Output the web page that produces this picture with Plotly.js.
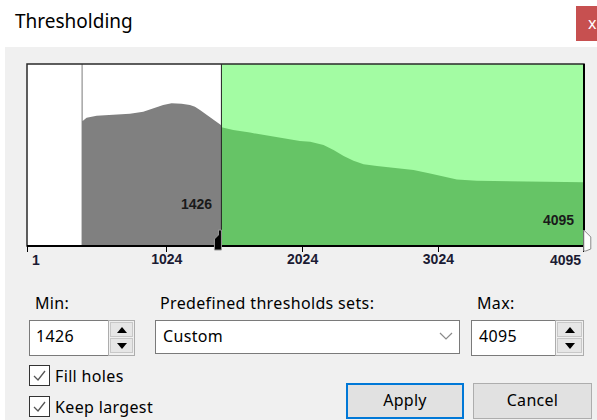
<!DOCTYPE html>
<html><head><meta charset="utf-8">
<script src="https://cdn.plot.ly/plotly-3.0.1.min.js"></script>
<style>
html,body{margin:0;padding:0;width:597px;height:420px;overflow:hidden;background:#fff;font-family:"Noto Sans",sans-serif;}
#wrap{position:relative;width:597px;height:420px;overflow:hidden;}
.abs{position:absolute;}
#dlg{left:5px;top:47px;width:592px;height:373px;background:#f0f0f0;}
#chart{left:0;top:0;width:597px;height:420px;}
.lbl{font-size:16px;line-height:16px;color:#000;white-space:nowrap;letter-spacing:0.35px;}
.box{background:#fff;border:1px solid #7a7a7a;box-sizing:border-box;}
.spin{background:#f0f0f0;border:1px solid #adadad;box-sizing:border-box;}
.spin .half{position:absolute;left:1px;right:1px;height:15px;background:#e6e6e6;border:1px solid #c8c8c8;box-sizing:border-box;}
.up{position:absolute;left:50%;top:50%;margin-left:-5px;margin-top:-3px;width:0;height:0;border-left:5px solid transparent;border-right:5px solid transparent;border-bottom:6px solid #000;}
.dn{position:absolute;left:50%;top:50%;margin-left:-5px;margin-top:-3px;width:0;height:0;border-left:5px solid transparent;border-right:5px solid transparent;border-top:6px solid #000;}
.chk{background:#fff;border:1px solid #333;box-sizing:border-box;width:21px;height:21px;}
.btn{background:#e1e1e1;box-sizing:border-box;text-align:center;font-size:16px;color:#000;letter-spacing:0.3px;}
</style>
</head><body>
<div id="wrap">
  <div class="abs lbl" style="left:15px;top:12px;font-size:19px;line-height:19px;letter-spacing:0;">Thresholding</div>
  <div class="abs" style="left:576px;top:6px;width:21px;height:35px;background:#c75050;"></div>
  <div class="abs lbl" style="left:588px;top:15px;color:#fff;font-size:16px;">x</div>
  <div class="abs" id="dlg"></div>
  <div class="abs" id="chart"></div>

  <div class="abs lbl" style="left:35px;top:295px;">Min:</div>
  <div class="abs lbl" style="left:160px;top:295px;">Predefined thresholds sets:</div>
  <div class="abs lbl" style="left:477px;top:295px;">Max:</div>

  <div class="abs box" style="left:29px;top:320px;width:80px;height:36px;"></div>
  <div class="abs lbl" style="left:36px;top:328px;">1426</div>
  <div class="abs spin" style="left:108px;top:320px;width:27px;height:36px;">
    <div class="half" style="top:1px;"><div class="up"></div></div>
    <div class="half" style="top:17px;"><div class="dn"></div></div>
  </div>

  <div class="abs box" style="left:155px;top:320px;width:305px;height:34px;"></div>
  <div class="abs lbl" style="left:163px;top:328px;">Custom</div>
  <svg class="abs" style="left:438px;top:330px;" width="16" height="12"><polyline points="2,3 8,9 14,3" fill="none" stroke="#8a8a8a" stroke-width="1.2"/></svg>

  <div class="abs box" style="left:471px;top:320px;width:85px;height:36px;"></div>
  <div class="abs lbl" style="left:479px;top:328px;">4095</div>
  <div class="abs spin" style="left:555px;top:320px;width:29px;height:36px;">
    <div class="half" style="top:1px;"><div class="up"></div></div>
    <div class="half" style="top:17px;"><div class="dn"></div></div>
  </div>

  <div class="abs chk" style="left:29px;top:365px;"><svg width="19" height="19"><polyline points="4,10 8,14 15,5" fill="none" stroke="#555" stroke-width="1.3"/></svg></div>
  <div class="abs lbl" style="left:55px;top:368px;">Fill holes</div>
  <div class="abs chk" style="left:29px;top:396px;"><svg width="19" height="19"><polyline points="4,10 8,14 15,5" fill="none" stroke="#555" stroke-width="1.3"/></svg></div>
  <div class="abs lbl" style="left:55px;top:399px;">Keep largest</div>

  <div class="abs btn" style="left:346px;top:383px;width:118px;height:36px;border:2px solid #0078d7;line-height:31px;">Apply</div>
  <div class="abs btn" style="left:473px;top:383px;width:119px;height:36px;border:1px solid #adadad;line-height:33px;">Cancel</div>
</div>
<script>
// Histogram (intensity bin, count on a 0-1000 display scale)
var intensity = [396, 403, 404, 433, 507, 629, 752, 850, 924, 997, 1059, 1133, 1194, 1231, 1268, 1317, 1365, 1422, 1426, 1513, 1636, 1759, 1881, 2004, 2080, 2178, 2252, 2326, 2399, 2473, 2571, 2718, 2841, 2963, 3062, 3160, 3307, 3454, 3700, 3946, 4095];
var counts = [5000, 5000, 687, 705, 716, 721, 727, 738, 757, 775, 784, 782, 775, 765, 747, 720, 692, 665, 652, 637, 623, 608, 592, 577, 573, 555, 527, 495, 469, 449, 440, 430, 418, 399, 381, 366, 359, 357, 353, 350, 350];
var minThreshold = 1426;
var maxThreshold = 4095;
var tickVals = [1, 1024, 2024, 3024, 4095];
var tickLabels = ['1', '1024', '2024', '3024', '4095'];

var xRange = [-6, 4096.5];
var gx = [], gy = [], sx = [], sy = [];
for (var i = 0; i < intensity.length; i++) {
  if (intensity[i] <= minThreshold) { gx.push(intensity[i]); gy.push(counts[i]); }
  if (intensity[i] >= minThreshold && intensity[i] <= maxThreshold) { sx.push(intensity[i]); sy.push(counts[i]); }
}
var last = tickVals.length - 1;
var midText = tickLabels.map(function (t, i) { return (i === 0 || i === last) ? '' : t; });
function toPaper(v) { return (v - xRange[0]) / (xRange[1] - xRange[0]); }
var tickFont = {family: 'Liberation Sans, Arial, sans-serif', size: 14, weight: 'bold', color: '#1b1b33'};
var lblFont = {family: 'Liberation Sans, Arial, sans-serif', size: 14, weight: 'bold', color: '#1a1a1a'};

var data = [
  {type: 'scatter', mode: 'lines', x: gx, y: gy, fill: 'tozeroy', fillcolor: '#808080', line: {width: 0, color: '#808080'}, hoverinfo: 'skip'},
  {type: 'scatter', mode: 'lines', x: sx, y: sy, fill: 'tozeroy', fillcolor: '#66c466', line: {width: 0, color: '#66c466'}, hoverinfo: 'skip'}
];
var layout = {
  width: 597, height: 420,
  margin: {l: 27, r: 13, t: 64, b: 174, pad: 0},
  paper_bgcolor: 'rgba(0,0,0,0)', plot_bgcolor: '#ffffff',
  showlegend: false,
  xaxis: {range: xRange, tickmode: 'array', tickvals: tickVals, ticktext: midText, ticks: 'outside', ticklen: 5, tickwidth: 1, tickcolor: '#000',
          ticklabelstandoff: -5, showgrid: false, zeroline: false, showline: false, fixedrange: true, tickfont: tickFont},
  yaxis: {range: [0, 1000], visible: false, fixedrange: true},
  shapes: [
    {type: 'rect', xref: 'x', yref: 'paper', x0: minThreshold, x1: maxThreshold, y0: 0, y1: 1, fillcolor: '#a3fca3', line: {width: 0}, layer: 'below'},
    {type: 'line', xref: 'x', yref: 'paper', x0: minThreshold, x1: minThreshold, y0: 0, y1: 1, line: {color: '#222', width: 1}},
    {type: 'rect', xref: 'paper', yref: 'paper', x0: 0, x1: 1, y0: 0, y1: 1, line: {color: '#2a2a2a', width: 1.5}},
    {type: 'line', xref: 'paper', yref: 'paper', x0: 0, x1: 1, y0: 0, y1: 0, line: {color: '#000', width: 2}},
    {type: 'line', xref: 'paper', yref: 'paper', x0: 1, x1: 1, y0: 0, y1: 1, line: {color: '#000', width: 2}},
    {type: 'path', xref: 'paper', yref: 'paper', xsizemode: 'pixel', ysizemode: 'pixel', xanchor: toPaper(minThreshold), yanchor: 0,
     path: 'M 0 16 L 0 -4 L -7 -4 L -7 7 L -3 11 L -3 16 Z', fillcolor: '#000', line: {color: '#9a9a9a', width: 1}},
    {type: 'path', xref: 'paper', yref: 'paper', xsizemode: 'pixel', ysizemode: 'pixel', xanchor: toPaper(maxThreshold), yanchor: 0,
     path: 'M 0 16 L 7 9 L 7 -3 L 2 -5 L 0 -5 Z', fillcolor: '#ffffff', line: {color: '#8a8a8a', width: 1}}
  ],
  annotations: [
    {x: minThreshold, xref: 'x', y: 0, yref: 'paper', text: String(minThreshold), showarrow: false, xanchor: 'right', yanchor: 'middle', xshift: -7, yshift: 42, font: lblFont},
    {x: maxThreshold, xref: 'x', y: 0, yref: 'paper', text: String(maxThreshold), showarrow: false, xanchor: 'right', yanchor: 'middle', xshift: -8, yshift: 26, font: lblFont},
    {x: tickVals[0], xref: 'x', y: 0, yref: 'paper', text: tickLabels[0], showarrow: false, xanchor: 'left', yanchor: 'middle', xshift: 2, yshift: -14, font: tickFont},
    {x: tickVals[last], xref: 'x', y: 0, yref: 'paper', text: tickLabels[last], showarrow: false, xanchor: 'right', yanchor: 'middle', xshift: -1, yshift: -14, font: tickFont}
  ]
};
Plotly.newPlot('chart', data, layout, {staticPlot: true, displayModeBar: false});
</script>
</body></html>
